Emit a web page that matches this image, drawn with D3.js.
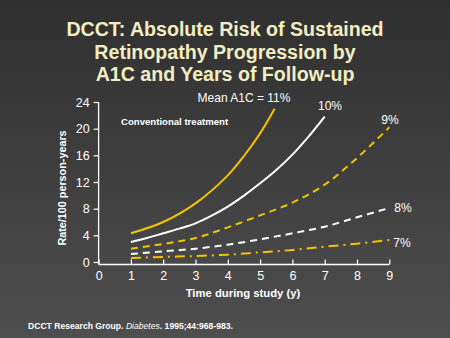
<!DOCTYPE html>
<html><head><meta charset="utf-8">
<script src="https://cdn.jsdelivr.net/npm/d3@7/dist/d3.min.js"></script>
<style>html,body{margin:0;padding:0;background:#3a3a3a;}svg{display:block;}</style>
</head><body>
<script>
const titleLines = ["DCCT: Absolute Risk of Sustained", "Retinopathy Progression by", "A1C and Years of Follow-up"];
const xTicks = [0,1,2,3,4,5,6,7,8,9];
const yTicks = [0,4,8,12,16,20,24];
const a1c11x = [1,2,3,4,4.5,5,5.45];
const a1c11y = [4.3,6.0,8.8,13.0,15.9,19.3,23.0];
const a1c10x = [1,1.5,2,2.5,3,3.5,4,4.5,5,5.5,6,6.5,7];
const a1c10y = [3.0,3.6,4.3,5.0,5.8,6.95,8.3,9.95,11.8,13.8,16.1,18.8,21.8];
const a1c9x = [1,2,3,4,5,6,7,8,9];
const a1c9y = [2.0,2.7,3.6,5.2,7.0,8.9,11.6,15.6,20.2];
const a1c8x = [1,2,3,4,5,6,7,8,9];
const a1c8y = [1.2,1.6,2.0,2.6,3.4,4.3,5.3,6.7,8.1];
const a1c7x = [1,2,3,4,5,6,7,8,9];
const a1c7y = [0.6,0.75,0.9,1.1,1.45,1.8,2.3,2.75,3.3];
const seriesLabels = ["Mean A1C = 11%","10%","9%","8%","7%"];

const W=450,H=338;
const svg=d3.select("body").append("svg").attr("width",W).attr("height",H);
const defs=svg.append("defs");
const g=defs.append("linearGradient").attr("id","bg").attr("x1",0).attr("y1",0).attr("x2",0).attr("y2",1);
g.append("stop").attr("offset","0%").attr("stop-color","#2f2f2f");
g.append("stop").attr("offset","100%").attr("stop-color","#4e4e4e");
svg.append("rect").attr("width",W).attr("height",H).attr("fill","url(#bg)");

const font="Liberation Sans, Arial, sans-serif";
svg.selectAll("text.title").data(titleLines).join("text")
  .attr("x",225).attr("y",(d,i)=>36+i*22.5)
  .attr("text-anchor","middle").attr("font-family",font)
  .attr("font-weight","bold").attr("font-size",19.6).attr("fill","#f2eec2").text(d=>d);

const x=d3.scaleLinear().domain([0,9]).range([98.6,389.3]);
const y=d3.scaleLinear().domain([0,24]).range([262,102]);

// y axis
const ya=svg.append("g").attr("transform",`translate(${x(0)},0)`)
  .call(d3.axisLeft(y).tickValues(yTicks).tickSize(5).tickPadding(4));
ya.select(".domain").attr("stroke","#fff").attr("stroke-width",1.3).attr("d",`M0,${y(24)}V264.5`);
ya.selectAll(".tick line").attr("stroke","#fff").attr("stroke-width",1.2);
ya.selectAll(".tick text").attr("fill","#fff").attr("font-family",font).attr("font-size",12.5);
// x axis
const xa=svg.append("g").attr("transform",`translate(0,264.5)`)
  .call(d3.axisBottom(x).tickValues(xTicks).tickSize(-5).tickPadding(7));
xa.select(".domain").attr("stroke","#fff").attr("stroke-width",1.3).attr("d",`M${x(0)},0H${x(9)}`);
xa.selectAll(".tick line").attr("stroke","#fff").attr("stroke-width",1.2);
xa.selectAll(".tick text").attr("fill","#fff").attr("font-family",font).attr("font-size",12.5);

svg.append("text").attr("transform","translate(66,188) rotate(-90)").attr("text-anchor","middle")
  .attr("font-family",font).attr("font-weight","bold").attr("font-size",10.8).attr("fill","#fff")
  .text("Rate/100 person-years");
svg.append("text").attr("x",243).attr("y",297).attr("text-anchor","middle")
  .attr("font-family",font).attr("font-weight","bold").attr("font-size",11.3).attr("fill","#fff")
  .text("Time during study (y)");
svg.append("text").attr("x",121).attr("y",125)
  .attr("font-family",font).attr("font-weight","bold").attr("font-size",9.6).attr("fill","#fff")
  .text("Conventional treatment");

const fn=svg.append("text").attr("x",28).attr("y",329)
  .attr("font-family",font).attr("font-weight","bold").attr("font-size",8.6).attr("fill","#fff");
fn.append("tspan").text("DCCT Research Group. ");
fn.append("tspan").attr("font-style","italic").attr("font-weight","normal").text("Diabetes");
fn.append("tspan").text(". 1995;44:968-983.");

const line=d3.line().x(d=>x(d[0])).y(d=>y(d[1])).curve(d3.curveCatmullRom.alpha(0.5));
const yellow="#f3c300";
const series=[
  {xs:a1c11x,ys:a1c11y,c:yellow,dash:null},
  {xs:a1c10x,ys:a1c10y,c:"#fff",dash:null},
  {xs:a1c9x,ys:a1c9y,c:yellow,dash:"7,5"},
  {xs:a1c8x,ys:a1c8y,c:"#fff",dash:"7,5"},
  {xs:a1c7x,ys:a1c7y,c:yellow,dash:"10,5,2,5"}
];
series.forEach(s=>{
  svg.append("path").datum(s.xs.map((v,i)=>[v,s.ys[i]]))
    .attr("d",line).attr("fill","none").attr("stroke",s.c).attr("stroke-width",2)
    .attr("stroke-dasharray",s.dash);
});
const labelPos=[[244,102],[330,110],[390,124],[403,212],[402,247]];
svg.selectAll("text.slab").data(seriesLabels).join("text")
  .attr("x",(d,i)=>labelPos[i][0]).attr("y",(d,i)=>labelPos[i][1])
  .attr("text-anchor","middle").attr("font-family",font).attr("font-size",12).attr("fill","#fff").text(d=>d);
</script>
</body></html>
